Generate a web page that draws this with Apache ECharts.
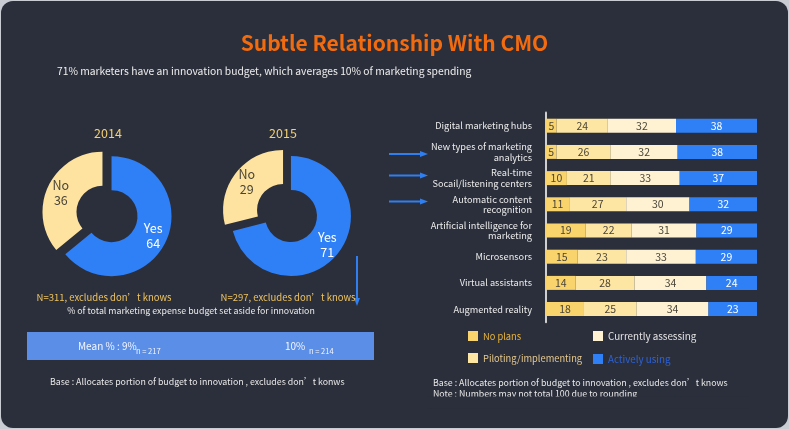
<!DOCTYPE html>
<html><head><meta charset="utf-8">
<script src="https://cdn.jsdelivr.net/npm/echarts@6/dist/echarts.min.js"></script>
<style>html,body{margin:0;padding:0;background:#c9ccd2;}#c{width:789px;height:429px;}</style>
</head><body><div id="c"></div>
<script>
// ---- data ----
const years = ['2014', '2015'];
const yesValues = [64, 71];
const noValues = [36, 29];
const sampleNotes = ['N=311, excludes don’t knows', 'N=297, excludes don’t knows'];
const meanLabels = ['Mean % : 9%', '10%'];
const meanCounts = ['n = 217', 'n = 214'];
const categories = [
  'Digital marketing hubs',
  'New types of marketing\nanalytics',
  'Real-time\nSocail/listening centers',
  'Automatic content\nrecognition',
  'Artificial intelligence for\nmarketing',
  'Microsensors',
  'Virtual assistants',
  'Augmented reality'
];
const noPlans = [5, 5, 10, 11, 19, 15, 14, 18];
const piloting = [24, 26, 21, 27, 22, 23, 28, 25];
const assessing = [32, 32, 33, 30, 31, 33, 34, 34];
const activelyUsing = [38, 38, 37, 32, 29, 29, 24, 23];
const seriesNames = ['No plans', 'Piloting/implementing', 'Currently assessing', 'Actively using'];

// ---- styles ----
const FONT = '"Noto Sans CJK SC", "Noto Sans", sans-serif';
const BG = '#2b2f3b';
const barColors = ['#f9d46c', '#fde5a3', '#fef2d3', '#2f80f6'];
const barLabelColors = ['#4a4538', '#4a4538', '#4a4538', '#ffffff'];
const legendTextColors = ['#e8b53e', '#e6c98e', '#e4e4e4', '#2d62d6'];
const pieCenters = [[107, 214], [287, 213]];
const yearX = [108, 283];

const seriesValues = [noPlans, piloting, assessing, activelyUsing];
const totals = categories.map((_, i) => seriesValues.reduce((s, arr) => s + arr[i], 0));

const barSeries = seriesValues.map((arr, k) => ({
  name: seriesNames[k],
  type: 'bar',
  stack: 'total',
  barWidth: 14,
  itemStyle: { color: barColors[k] },
  label: {
    show: true, position: 'inside', color: barLabelColors[k],
    fontSize: 10.5, fontFamily: FONT,
    formatter: p => p.data.raw
  },
  emphasis: { disabled: true },
  data: arr.map((v, i) => ({ value: v * 100 / totals[i], raw: v }))
}));

const pieSeries = years.map((y, i) => ({
  type: 'pie',
  center: pieCenters[i],
  radius: [26, 60],
  startAngle: 90,
  clockwise: true,
  selectedMode: 'multiple',
  selectedOffset: 5,
  emphasis: { disabled: true },
  label: {
    show: true, position: 'inside', formatter: '{b}\n{c}',
    fontSize: 12.5, lineHeight: 15, fontFamily: FONT
  },
  labelLine: { show: false },
  data: [
    { name: 'Yes', value: yesValues[i], selected: true, itemStyle: { color: '#2f80f6' }, label: { color: '#ffffff' } },
    { name: 'No', value: noValues[i], selected: true, itemStyle: { color: '#fde39f' }, label: { color: '#4a4538' } }
  ]
}));

function txt(text, x, y, color, size, opts) {
  return {
    type: 'text', x: x, y: y, z: 10,
    style: Object.assign({ text: text, fill: color, fontSize: size, fontFamily: FONT, align: 'left', verticalAlign: 'middle' }, opts || {})
  };
}
function arrowRight(y) {
  return [
    { type: 'line', shape: { x1: 389, y1: y, x2: 423, y2: y }, style: { stroke: '#2f7ff0', lineWidth: 2 }, z: 5 },
    { type: 'polygon', shape: { points: [[420, y - 3], [428, y], [420, y + 3]] }, style: { fill: '#2f7ff0' }, z: 5 }
  ];
}

const graphics = [
  { type: 'rect', shape: { x: 1, y: 1, width: 787, height: 427, r: 12 }, style: { fill: BG }, z: -10 },
  txt('71% marketers have an innovation budget, which averages 10% of marketing spending', 57, 71, '#eeeeee', 10.3),
  txt(years[0], yearX[0], 133, '#f3cf72', 12.5, { align: 'center' }),
  txt(years[1], yearX[1], 133, '#f3cf72', 12.5, { align: 'center' }),
  txt(sampleNotes[0], 104, 297, '#efc35e', 9.5, { align: 'center' }),
  txt(sampleNotes[1], 288, 297, '#efc35e', 9.5, { align: 'center' }),
  { type: 'line', shape: { x1: 357, y1: 256, x2: 357, y2: 300 }, style: { stroke: '#2f7ff0', lineWidth: 2 }, z: 5 },
  { type: 'polygon', shape: { points: [[354, 298], [357, 306], [360, 298]] }, style: { fill: '#2f7ff0' }, z: 5 },
  txt('% of total marketing expense budget set aside for innovation', 191, 311, '#e8e8e8', 8.8, { align: 'center' }),
  { type: 'rect', shape: { x: 27, y: 332, width: 347, height: 28 }, style: { fill: '#5b8ee6' }, z: 1 },
  txt(meanLabels[0], 78, 346, '#f4f6ff', 10),
  txt(meanCounts[0], 136, 351, '#f4f6ff', 7.5),
  txt(meanLabels[1], 285, 346, '#f4f6ff', 10),
  txt(meanCounts[1], 309, 351, '#f4f6ff', 7.5),
  txt('Base : Allocates portion of budget to innovation , excludes don’t konws', 50, 382, '#e8e8e8', 8.8),
  txt('Base : Allocates portion of budget to innovation , excludes don’t knows', 433, 383, '#e8e8e8', 8.8),
  txt('Note : Numbers may not total 100 due to rounding', 433, 393.5, '#e8e8e8', 8.8),
  { type: 'rect', shape: { x: 428, y: 396.5, width: 320, height: 12 }, style: { fill: BG }, z: 20 }
].concat(arrowRight(154), arrowRight(175.5), arrowRight(201.5));

const option = {
  backgroundColor: 'transparent',
  animation: false,
  title: {
    text: 'Subtle Relationship With CMO', left: 'center', top: 28,
    textStyle: { color: '#f26b0f', fontSize: 21, fontWeight: 'bold', fontFamily: FONT }
  },
  legend: [
    {
      orient: 'vertical', left: 463, top: 326, itemWidth: 10, itemHeight: 10, itemGap: 12, icon: 'rect',
      selectedMode: false,
      textStyle: { fontSize: 9.3, fontFamily: FONT },
      data: [
        { name: seriesNames[0], textStyle: { color: legendTextColors[0] } },
        { name: seriesNames[1], textStyle: { color: legendTextColors[1] } }
      ]
    },
    {
      orient: 'vertical', left: 588, top: 326, itemWidth: 10, itemHeight: 10, itemGap: 13, icon: 'rect',
      selectedMode: false,
      textStyle: { fontSize: 9.8, fontFamily: FONT },
      data: [
        { name: seriesNames[2], textStyle: { color: legendTextColors[2] } },
        { name: seriesNames[3], textStyle: { color: legendTextColors[3] } }
      ]
    }
  ],
  grid: { left: 546, top: 112.6, width: 211, height: 209.6, containLabel: false },
  xAxis: { type: 'value', min: 0, max: 100, show: false },
  yAxis: {
    type: 'category', data: categories, inverse: true,
    axisLine: { show: true, lineStyle: { color: '#cfcfcf', width: 2 } },
    axisTick: { show: false },
    axisLabel: { color: '#ececec', fontSize: 9.2, lineHeight: 10.5, fontFamily: FONT, margin: 14, align: 'right' }
  },
  graphic: graphics,
  series: barSeries.concat(pieSeries)
};

const chart = echarts.init(document.getElementById('c'), null, { renderer: 'canvas' });
chart.setOption(option);
</script>
</body></html>
